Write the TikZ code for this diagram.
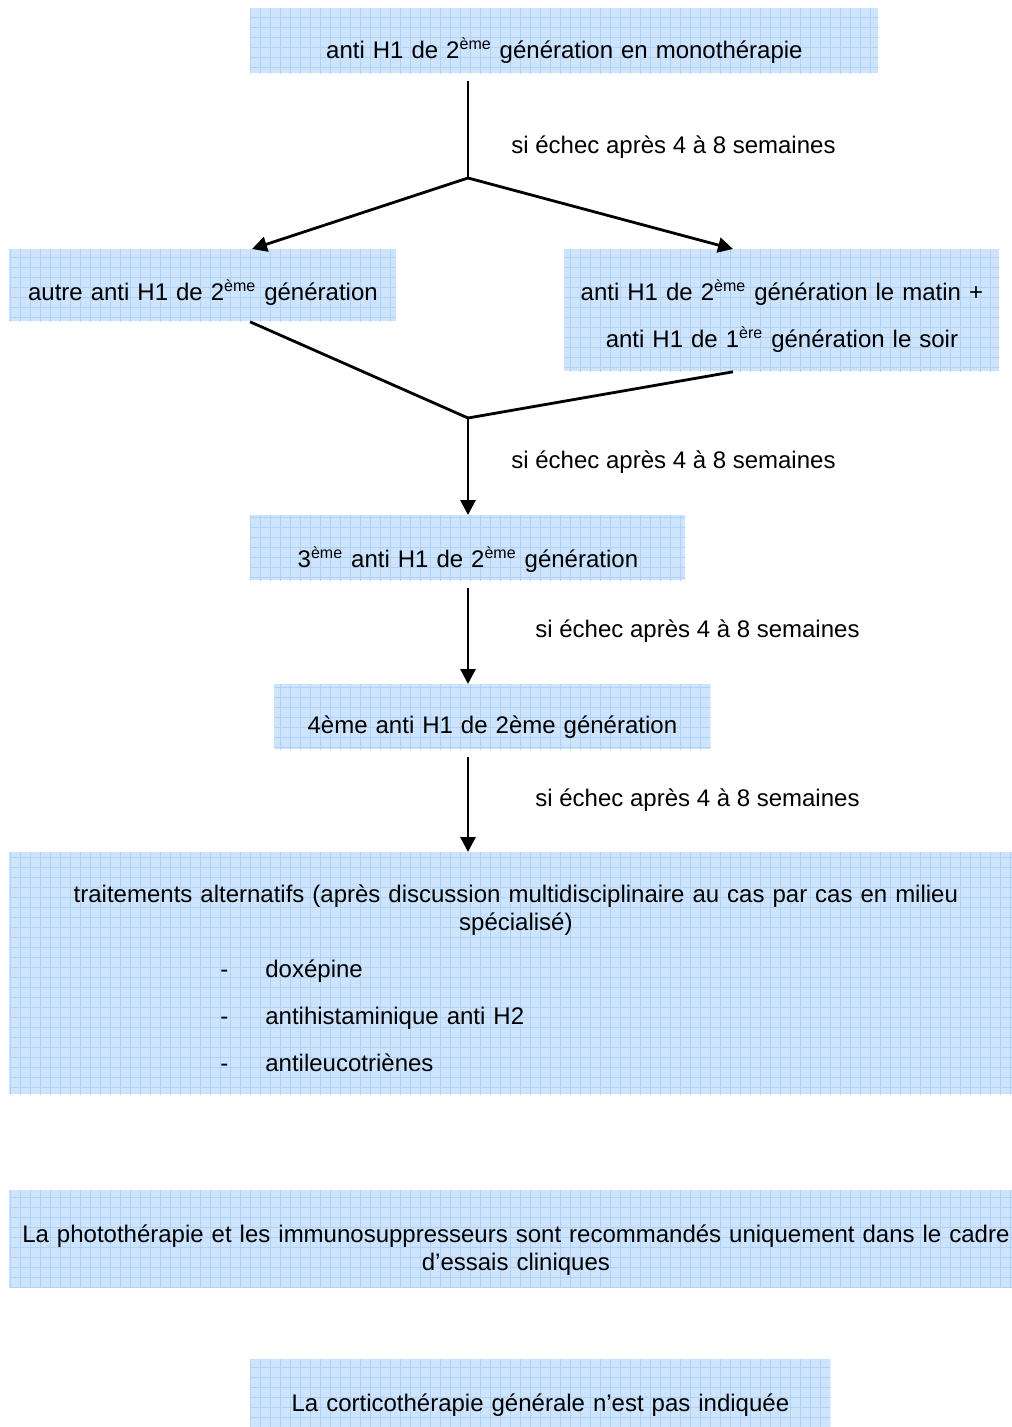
\documentclass[tikz,border=0pt]{standalone}
\usepackage{fontspec}
\setmainfont{Liberation Sans}
\usepackage{tikz}
\usetikzlibrary{arrows.meta, patterns}
\definecolor{panelblue}{RGB}{206,228,252}
\definecolor{gridblue}{RGB}{176,210,248}
\pgfdeclarepatternformonly{cellgrid}{\pgfpoint{-0.1pt}{-0.1pt}}{\pgfpoint{5.1pt}{5.1pt}}{\pgfpoint{5pt}{5pt}}{%
  \pgfsetlinewidth{0.4pt}
  \pgfpathmoveto{\pgfpoint{0pt}{0pt}}\pgfpathlineto{\pgfpoint{5pt}{0pt}}
  \pgfpathmoveto{\pgfpoint{0pt}{0pt}}\pgfpathlineto{\pgfpoint{0pt}{5pt}}
  \pgfusepath{stroke}}
\tikzstyle{panel} = [anchor=north west, inner sep=0pt, align=center, preaction={fill=panelblue}, pattern=cellgrid, pattern color=gridblue]
\tikzstyle{arrow} = [line width=1.4pt, -{Triangle[length=7.5pt, width=7.5pt]}]
\tikzstyle{line} = [line width=1.4pt, -]
\tikzstyle{note} = [anchor=base west, inner sep=0pt]
\newcommand{\eme}{\textsuperscript{ème}}
\newcommand{\dashitem}[1]{\makebox[506.5pt][l]{\hspace*{105.5pt}\makebox[22.5pt][l]{-}#1}}

\begin{document}
\begin{tikzpicture}[x=0.5pt, y=-0.5pt, font=\fontsize{12}{14}\selectfont]
     \useasboundingbox (0, 0) rectangle (1011, 1427);
     \node (mono) at (250, 8) [panel, text width=314pt, text height=25pt, text depth=7.5pt]
           {anti H1 de 2\eme{} génération en monothérapie};
     \node (other) at (9, 249) [panel, text width=193.5pt, text height=25.5pt, text depth=10.5pt]
           {autre anti H1 de 2\eme{} génération};
     \node (combo) at (564, 249) [panel, text width=217.5pt, text height=25.5pt, text depth=35.5pt]
           {anti H1 de 2\eme{} génération le matin +\\[9.5pt]
            anti H1 de 1\textsuperscript{ère} génération le soir};
     \node (third) at (250, 515) [panel, text width=217.5pt, text height=26pt, text depth=6.5pt]
           {3\eme{} anti H1 de 2\eme{} génération};
     \node (fourth) at (274, 684) [panel, text width=218pt, text height=24.5pt, text depth=8pt]
           {4ème anti H1 de 2ème génération};
     \node (alternatives) at (9, 852) [panel, text width=506.5pt, text height=25pt, text depth=96pt]
           {traitements alternatifs (après discussion multidisciplinaire au cas par cas en milieu\\
            spécialisé)\\[9.5pt]
            \dashitem{doxépine}\\[9.5pt]
            \dashitem{antihistaminique anti H2}\\[9.5pt]
            \dashitem{antileucotriènes}};
     \node (photo) at (9, 1190) [panel, text width=506.5pt, text height=26pt, text depth=22.5pt]
           {La photothérapie et les immunosuppresseurs sont recommandés uniquement dans le cadre\\
            d’essais cliniques};
     \node (cortico) at (250, 1359) [panel, text width=290pt, text height=26pt, text depth=9pt]
           {La corticothérapie générale n’est pas indiquée};
     % junctions
     \coordinate (split) at (468, 178);
     \coordinate (merge) at (468, 418);
     \draw[line, shorten <=3.5pt] (mono.south -| split) -- (split);
     \draw[arrow] (split) -- ([xshift=121.5pt]other.north west);
     \draw[arrow] (split) -- ([xshift=84.5pt]combo.north west);
     \draw[line] ([xshift=120.5pt]other.south west) -- (merge) -- ([xshift=84.5pt]combo.south west);
     \draw[arrow] (merge) -- (merge |- third.north);
     \draw[arrow, shorten <=3.5pt] (third.south -| merge) -- (fourth.north -| merge);
     \draw[arrow, shorten <=3.5pt] (fourth.south -| merge) -- (alternatives.north -| merge);
     % labels
     \node (fail1) at (511, 154) [note] {si échec après 4 à 8 semaines};
     \node (fail2) at (511, 468) [note] {si échec après 4 à 8 semaines};
     \node (fail3) at (535, 637) [note] {si échec après 4 à 8 semaines};
     \node (fail4) at (535, 806) [note] {si échec après 4 à 8 semaines};
\end{tikzpicture}
\end{document}
